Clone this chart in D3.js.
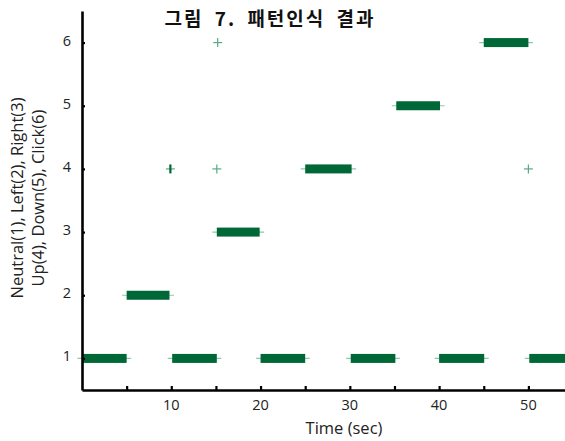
<!DOCTYPE html>
<html>
<head>
<meta charset="utf-8">
<script src="https://cdn.jsdelivr.net/npm/d3@7"></script>
<style>
body{margin:0;background:#fff;}
.axis path,.axis line{stroke:#000;}
.tickLabel{font-family:"Open Sans",sans-serif;font-size:14.5px;fill:#222;}
</style>
</head>
<body>
<svg id="chart" width="565" height="441"></svg>
<script>
var svgWidth=565;
var svgHeight=441;
var axisLeft=82;
var axisBottom=390;
var axisTop=11;

// 구간별 인식 결과
var segStart=[0,5,10.1,15.1,20,25,30.1,35.2,40,45,50.1];
var segEnd=[5,9.8,15.1,19.9,25,30.2,35.1,40.1,45.05,50,55];
var segClass=[1,2,1,3,1,4,1,5,1,6,1];

// 튀는 점
var outTime=[9.9,15.1,15.2,50];
var outClass=[4,4,6,4];

var xTicks=[10,20,30,40,50];
var xMinor=[5,15,25,35,45];
var yTicks=[1,2,3,4,5,6];

var svg=d3.select("#chart");

var xScale=d3.scaleLinear()
    .domain([0,54.1])
    .range([axisLeft,svgWidth]);
var yScale=d3.scaleLinear()
    .domain([0.5,6.5])
    .range([axisBottom,axisTop]);

var segs=segStart.map(function(d,i){
    return {s:d,e:segEnd[i],c:segClass[i]};
});

//가는 선(마커 가로획)
svg.selectAll(".whisker")
    .data(segs)
    .enter()
    .append("line")
    .attr("class","whisker")
    .attr("x1",function(d){return xScale(d.s)-4.5;})
    .attr("x2",function(d){return xScale(d.e)+4.5;})
    .attr("y1",function(d){return yScale(d.c);})
    .attr("y2",function(d){return yScale(d.c);})
    .attr("stroke","#8cc7a8")
    .attr("stroke-width",1.2);

//막대
svg.selectAll(".seg")
    .data(segs)
    .enter()
    .append("rect")
    .attr("class","seg")
    .attr("x",function(d){return xScale(d.s);})
    .attr("width",function(d){return xScale(d.e)-xScale(d.s);})
    .attr("y",function(d){return yScale(d.c)-4.5;})
    .attr("height",9)
    .attr("fill","#006837");

//+ 마커
var outs=outTime.map(function(d,i){return {t:d,c:outClass[i]};});
var plus=svg.selectAll(".plus")
    .data(outs)
    .enter()
    .append("g")
    .attr("transform",function(d){
        return "translate("+xScale(d.t)+","+yScale(d.c)+")";
    });
plus.append("line")
    .attr("x1",-4.5).attr("x2",4.5).attr("y1",0).attr("y2",0)
    .attr("stroke","#5aa985").attr("stroke-width",1.2);
plus.append("line")
    .attr("x1",0).attr("x2",0).attr("y1",-4.5).attr("y2",4.5)
    .attr("stroke",function(d,i){return i==0?"#006837":"#5aa985";})
    .attr("stroke-width",function(d,i){return i==0?2.2:1.2;});

//세로축
var yAxis=svg.append("g")
    .attr("class","axis")
    .attr("transform","translate("+axisLeft+",0)")
    .call(d3.axisRight(yScale).tickValues(yTicks).tickSize(3).tickSizeOuter(0).tickFormat(""));
yAxis.select(".domain").attr("stroke-width",2.6);
yAxis.selectAll(".tick line").attr("stroke-width",2.2);

svg.selectAll(".yLabel")
    .data(yTicks)
    .enter()
    .append("text")
    .attr("class","tickLabel")
    .attr("x",71)
    .attr("y",function(d){return yScale(d)+3;})
    .attr("text-anchor","end")
    .text(function(d){return d;});

//가로축
var xAxis=svg.append("g")
    .attr("class","axis")
    .attr("transform","translate(0,"+axisBottom+")")
    .call(d3.axisTop(xScale).tickValues(xTicks.concat(xMinor)).tickSize(4).tickSizeOuter(0).tickFormat(""));
xAxis.select(".domain").attr("stroke-width",2.6);
xAxis.selectAll(".tick line").attr("stroke-width",2.2);

svg.selectAll(".xLabel")
    .data(xTicks)
    .enter()
    .append("text")
    .attr("class","tickLabel")
    .attr("x",function(d){return xScale(d);})
    .attr("y",410)
    .attr("text-anchor","middle")
    .text(function(d){return d;});

svg.append("text")
    .attr("x",344)
    .attr("y",434)
    .attr("text-anchor","middle")
    .style("font-family","'Open Sans',sans-serif")
    .style("font-size","16.5px")
    .style("fill","#222")
    .text("Time (sec)");

var yTitle=["Neutral(1), Left(2), Right(3)","Up(4), Down(5), Click(6)"];
svg.selectAll(".yTitle")
    .data(yTitle)
    .enter()
    .append("text")
    .attr("transform",function(d,i){
        return "translate("+(23+i*21)+",198) rotate(-90)";
    })
    .attr("text-anchor","middle")
    .style("font-family","'Open Sans',sans-serif")
    .style("font-size","16.5px")
    .style("fill","#222")
    .text(function(d){return d;});

//제목
svg.append("text")
    .attr("x",270)
    .attr("y",26)
    .attr("text-anchor","middle")
    .style("font-family","'Noto Sans CJK KR',sans-serif")
    .style("font-weight","bold")
    .style("font-size","19px")
    .style("letter-spacing","2px")
    .style("word-spacing","5px")
    .style("fill","#111")
    .text("그림 7. 패턴인식 결과");
</script>
</body>
</html>
